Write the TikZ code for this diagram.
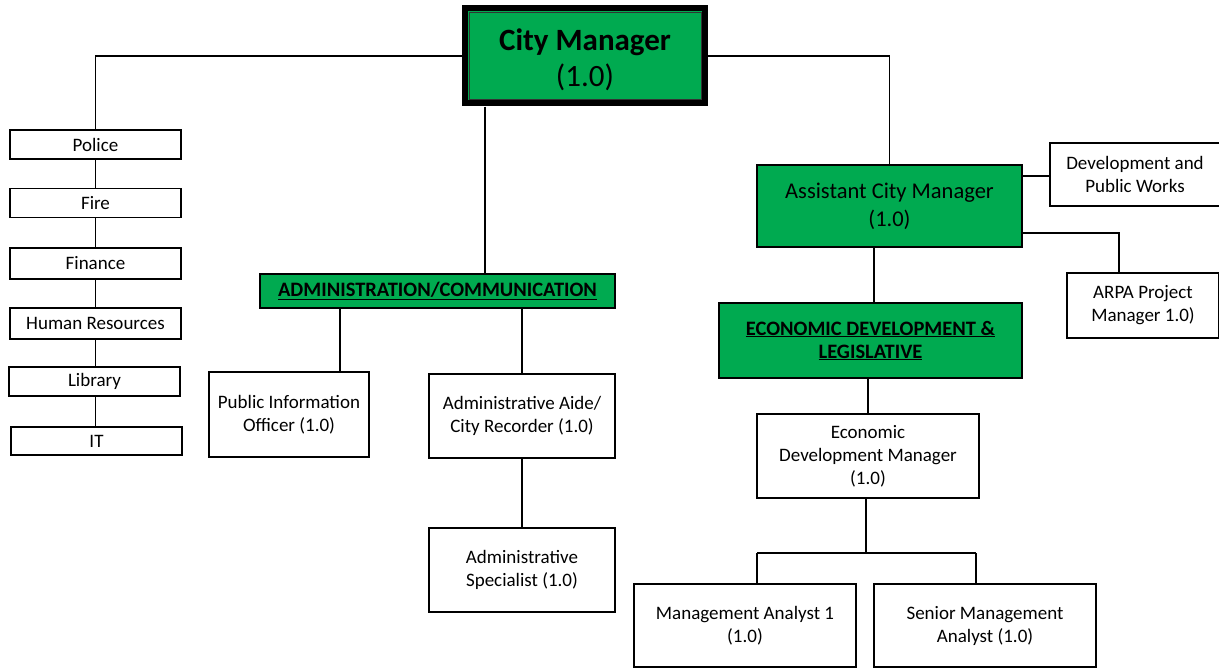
\documentclass[tikz,border=0pt]{standalone}
\usepackage{fontspec}
\setmainfont{Carlito}
\usetikzlibrary{calc}
\definecolor{orgreen}{RGB}{0,170,80}
\begin{document}
\begin{tikzpicture}[x=1pt,y=-1pt,
  box/.style={draw=black, line width=1.1pt, fill=white, align=center, inner sep=2pt, font=\fontsize{19}{23}\selectfont},
  gbox/.style={box, fill=orgreen},
  conn/.style={draw=black, line width=1.1pt}]
\useasboundingbox (0,0) rectangle (1219,669);
% City Manager
\node[draw=black, line width=6pt, fill=orgreen, minimum width=240pt, minimum height=95pt, inner sep=0pt] (cm) at (585,56) {};
\draw[line width=0.8pt, black!80] ($(cm.north west)+(7,7)$) rectangle ($(cm.south east)+(-7,-7)$);
\node[align=center, inner sep=0pt] (cmtext) at ($(cm.center)+(0,4)$)
  {\fontsize{31}{37}\selectfont\bfseries City Manager\\[7pt]\fontsize{31}{37}\selectfont (1.0)};
% left column
\node[box, minimum width=171pt, minimum height=29pt] (police) at (95.5,144.5) {Police};
\node[box, minimum width=171pt, minimum height=29pt] (fire) at (95.5,203) {Fire};
\node[box, minimum width=171pt, minimum height=31pt] (fin) at (95.5,263.5) {Finance};
\node[box, minimum width=171pt, minimum height=31pt] (hr) at (95.5,323.5) {Human Resources};
\node[box, minimum width=171pt, minimum height=29pt] (lib) at (94.5,381.5) {Library};
\node[box, minimum width=171pt, minimum height=28pt] (it) at (96.5,441) {IT};
% admin branch
\node[gbox, minimum width=355pt, minimum height=34pt, font=\fontsize{20.5}{23}\selectfont] (adm) at (437.5,291)
  {\bfseries\underline{ADMINISTRATION/COMMUNICATION}};
\node[box, minimum width=160pt, minimum height=85pt] (pio) at (289,414.5) {Public Information\\Officer (1.0)};
\node[box, minimum width=186pt, minimum height=84pt] (aide) at (522,416) {Administrative Aide/\\City Recorder (1.0)};
\node[box, minimum width=186pt, minimum height=84pt] (spec) at (522,570) {Administrative\\Specialist (1.0)};
% right branch
\node[gbox, minimum width=265pt, minimum height=82pt, font=\fontsize{22.5}{28}\selectfont] (acm) at (889.5,206) {Assistant City Manager\\(1.0)};
\node[box, minimum width=170pt, minimum height=63pt] (dpw) at (1135,174.5) {Development and\\Public Works};
\node[box, minimum width=152pt, minimum height=65pt] (arpa) at (1143,305.5) {ARPA Project\\Manager 1.0)};
\node[gbox, minimum width=303pt, minimum height=75pt, font=\fontsize{20.5}{23}\selectfont] (edl) at (870.5,340.5)
  {\bfseries\underline{ECONOMIC DEVELOPMENT \&}\\\bfseries\underline{LEGISLATIVE}};
\node[box, minimum width=222pt, minimum height=84pt] (edm) at (868,456) {Economic\\Development Manager\\(1.0)};
\node[box, minimum width=222pt, minimum height=83pt] (ma) at (745,625.5) {Management Analyst 1\\(1.0)};
\node[box, minimum width=222pt, minimum height=83pt] (sma) at (985,625.5) {Senior Management\\Analyst (1.0)};
% connectors
\draw[conn] (cm.west) -| (police.north);
\draw[conn] (police.south) -- (fire.north);
\draw[conn] (fire.south) -- (fin.north);
\draw[conn] (fin.south) -- (hr.north);
\draw[conn] (hr.south) -- (lib.north -| hr.south);
\draw[conn] (lib.south -| hr.south) -- (it.north -| hr.south);
\draw[conn] (cm.south -| 485,0) -- (adm.north -| 485,0);
\draw[conn] (adm.south -| 340,0) -- (pio.north -| 340,0);
\draw[conn] (adm.south -| aide.north) -- (aide.north);
\draw[conn] (aide.south) -- (spec.north);
\draw[conn] (cm.east) -| (acm.north);
\draw[conn] (acm.east |- 0,176) -- (dpw.west |- 0,176);
\draw[conn] (acm.east |- 0,233) -| (arpa.north -| 1119,0);
\draw[conn] (acm.south -| 874,0) -- (edl.north -| 874,0);
\draw[conn] (edl.south -| edm.north) -- (edm.north);
\coordinate (split) at (866,553);
\draw[conn] (edm.south -| split) -- (split);
\draw[conn] (split -| 757,0) -- (split -| 976,0);
\draw[conn] (split -| 757,0) -- (ma.north -| 757,0);
\draw[conn] (split -| 976,0) -- (sma.north -| 976,0);
\end{tikzpicture}
\end{document}
